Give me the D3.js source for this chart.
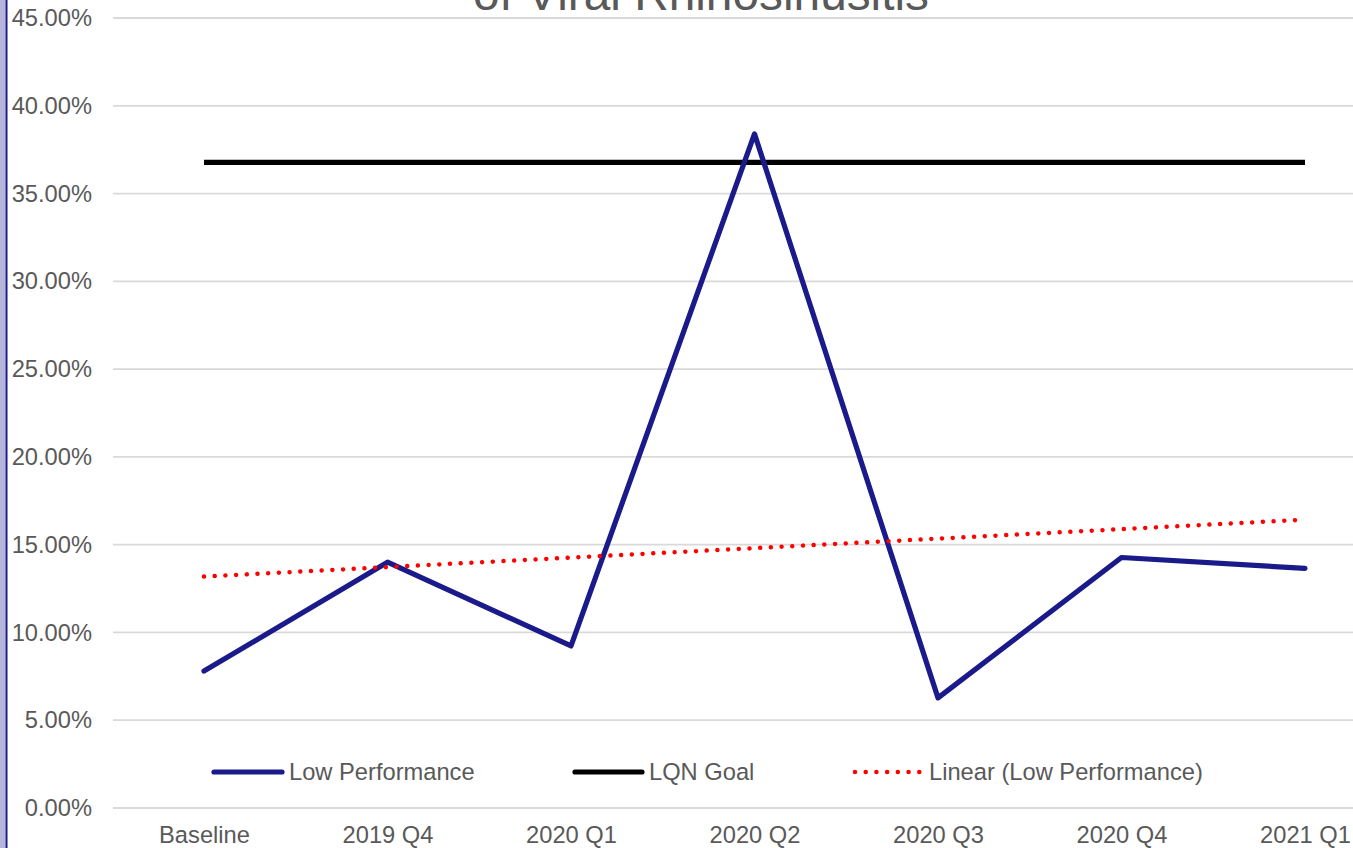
<!DOCTYPE html>
<html>
<head>
<meta charset="utf-8">
<script src="https://cdn.jsdelivr.net/npm/d3@7"></script>
<style>
  html, body { margin: 0; padding: 0; background: #fff; overflow: hidden; }
  svg { display: block; font-family: "Liberation Sans", Arial, sans-serif; }
</style>
</head>
<body>
<svg id="chart" width="1353" height="848"></svg>
<script>
// Quarterly rate of low performance against the LQN goal
const categories = ["Baseline", "2019 Q4", "2020 Q1", "2020 Q2", "2020 Q3", "2020 Q4", "2021 Q1"];
const lowPerformance = [7.80, 14.00, 9.23, 38.40, 6.27, 14.27, 13.65];
const lqnGoal = [36.78, 36.78, 36.78, 36.78, 36.78, 36.78, 36.78];
const yTicks = [0, 5, 10, 15, 20, 25, 30, 35, 40, 45];
const legendLabels = ["Low Performance", "LQN Goal", "Linear (Low Performance)"];
const titleLine = "of Viral Rhinosinusitis";

// Least-squares trend over the category index (1..n)
const n = lowPerformance.length;
const xs = d3.range(1, n + 1);
const mx = d3.mean(xs), my = d3.mean(lowPerformance);
const slope = d3.sum(xs, (x, i) => (x - mx) * (lowPerformance[i] - my)) / d3.sum(xs, x => (x - mx) ** 2);
const trend = xs.map(x => my + slope * (x - mx));

const W = 1353, H = 848;
const svg = d3.select("#chart");
const textColor = "#595959";
const fontSize = 23.7;
const navy = "#1a1a8a";

const x = d3.scalePoint().domain(categories).range([112.25, 1396.75]).padding(0.5);
const y = d3.scaleLinear().domain([0, 45]).range([808, 18]);

// Left border band
svg.append("rect").attr("x", 0).attr("y", 0).attr("width", 5.5).attr("height", H).attr("fill", "#b6b6dc");
svg.append("rect").attr("x", 5.5).attr("y", 0).attr("width", 2).attr("height", H).attr("fill", navy);

// Title (second line, sitting at the top edge)
svg.append("text")
  .attr("x", 701).attr("y", 9.5)
  .attr("text-anchor", "middle")
  .attr("fill", textColor)
  .style("font-size", "47.8px")
  .text(titleLine);

// Horizontal gridlines
svg.append("g").selectAll("line").data(yTicks).join("line")
  .attr("x1", 113).attr("x2", 1397)
  .attr("y1", d => y(d)).attr("y2", d => y(d))
  .attr("stroke", "#d9d9d9").attr("stroke-width", 1.8);

// Y axis labels
const yAxis = d3.axisLeft(y).tickValues(yTicks).tickSize(0).tickPadding(0)
  .tickFormat(d => d3.format(".2f")(d) + "%");
svg.append("g").attr("transform", "translate(92,0)").call(yAxis)
  .call(g => g.select(".domain").remove())
  .call(g => g.selectAll("text").attr("fill", textColor).style("font-size", fontSize + "px")
    .style("font-family", "'Liberation Sans', Arial, sans-serif"));

// X axis labels
const xAxis = d3.axisBottom(x).tickSize(0).tickPadding(0);
svg.append("g").attr("transform", "translate(0,826)").call(xAxis)
  .call(g => g.select(".domain").remove())
  .call(g => g.selectAll("text").attr("fill", textColor).style("font-size", fontSize + "px")
    .style("font-family", "'Liberation Sans', Arial, sans-serif"));

const line = d3.line().x((d, i) => x(categories[i])).y(d => y(d));

// LQN goal
svg.append("path").datum(lqnGoal).attr("d", line)
  .attr("fill", "none").attr("stroke", "#000").attr("stroke-width", 5.2);

// Low performance series
svg.append("path").datum(lowPerformance).attr("d", line)
  .attr("fill", "none").attr("stroke", navy).attr("stroke-width", 5.2)
  .attr("stroke-linejoin", "round").attr("stroke-linecap", "round");

// Linear trend
svg.append("path").datum(trend).attr("d", line)
  .attr("fill", "none").attr("stroke", "#ff0000").attr("stroke-width", 4.5)
  .attr("stroke-dasharray", "0.01 10.7").attr("stroke-linecap", "round");

// Legend
const legendItems = [
  { label: legendLabels[0], x0: 214, x1: 282, color: navy, dash: null, w: 5.2 },
  { label: legendLabels[1], x0: 575, x1: 642, color: "#000", dash: null, w: 5.2 },
  { label: legendLabels[2], x0: 855, x1: 922, color: "#ff0000", dash: "0.01 10.7", w: 4.5 }
];
const lg = svg.append("g");
legendItems.forEach(it => {
  lg.append("line").attr("x1", it.x0).attr("x2", it.x1).attr("y1", 772).attr("y2", 772)
    .attr("stroke", it.color).attr("stroke-width", it.w).attr("stroke-linecap", "round")
    .attr("stroke-dasharray", it.dash);
  lg.append("text").attr("x", it.x1 + 7).attr("y", 780).attr("fill", textColor)
    .style("font-size", fontSize + "px").text(it.label);
});
</script>
</body>
</html>
